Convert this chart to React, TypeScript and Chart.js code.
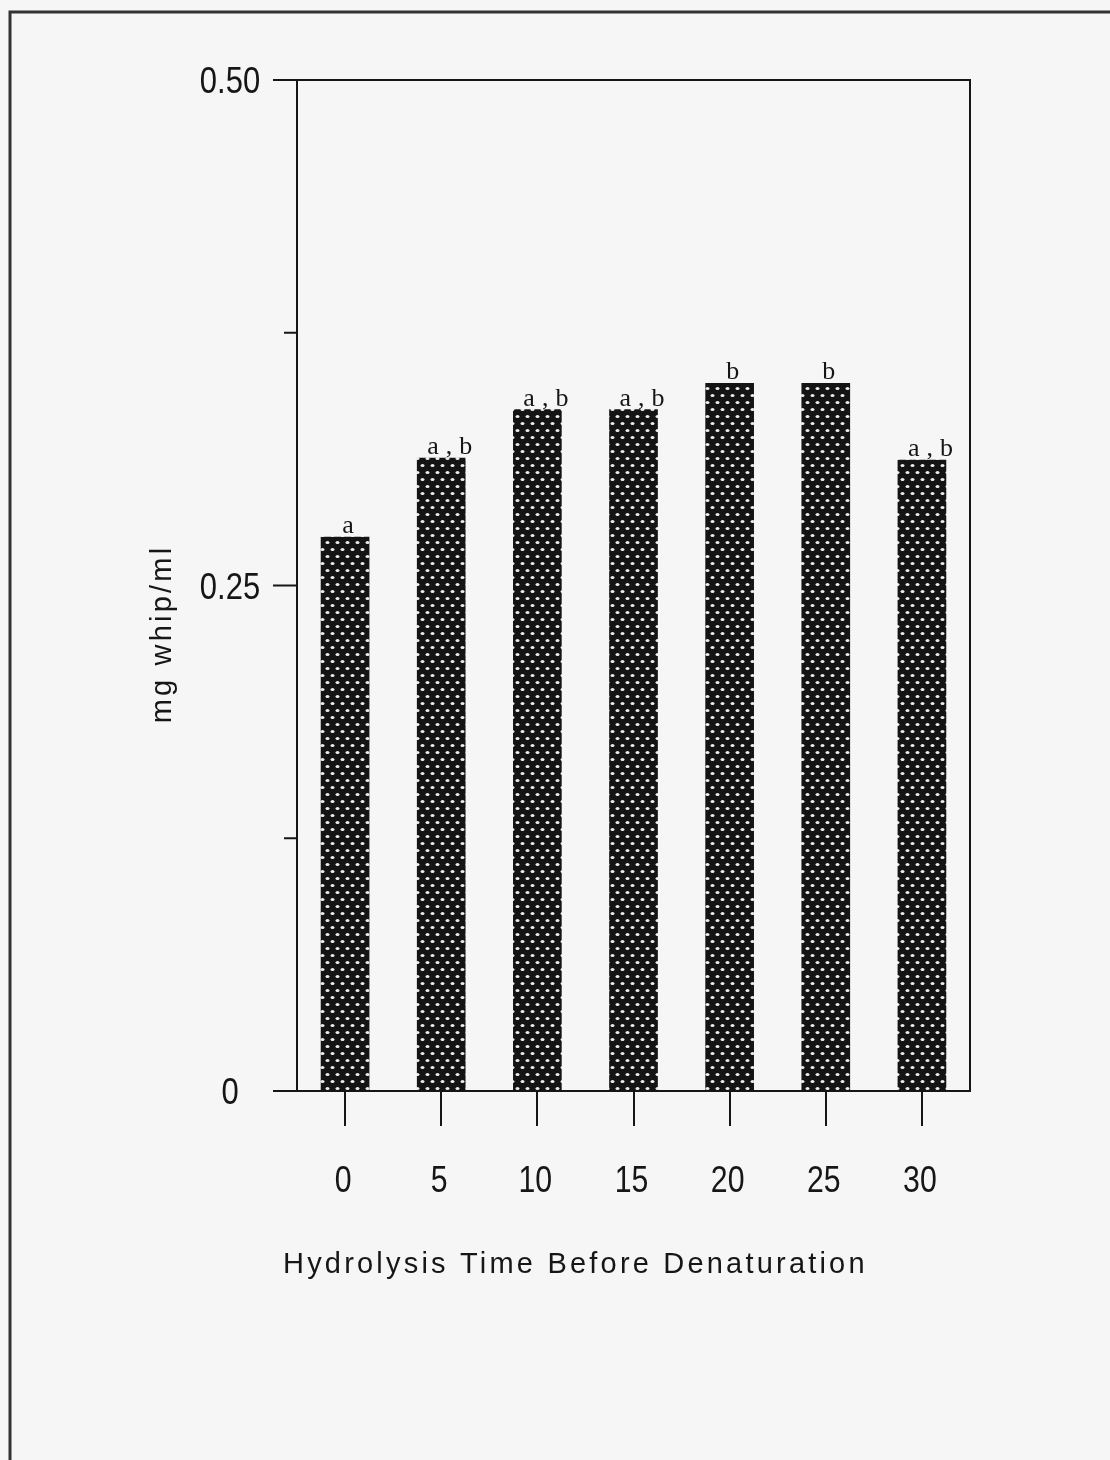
import React, { useEffect, useRef } from "react";
import { Chart, registerables } from "chart.js";

Chart.register(...registerables);

const categories = [0, 5, 10, 15, 20, 25, 30];
const xTickLabels = ["0", "5", "10", "15", "20", "25", "30"];
const values = [0.274, 0.313, 0.337, 0.337, 0.35, 0.35, 0.312];
const sigLabels = ["a", "a,b", "a,b", "a,b", "b", "b", "a,b"];
const yTickValues = [0, 0.125, 0.25, 0.375, 0.5];
const yTickLabels = ["0", "", "0.25", "", "0.50"];
const xTitle = "Hydrolysis Time Before Denaturation";
const yTitle = "mg whip/ml";

const INK = "#161616";
const BG = "#f6f6f6";
const SANS = '"Liberation Sans", Arial, sans-serif';

function makePattern(): CanvasPattern | string {
  const c = document.createElement("canvas");
  c.width = 10;
  c.height = 14;
  const g = c.getContext("2d");
  if (!g) return INK;
  g.fillStyle = "#141414";
  g.fillRect(0, 0, 10, 14);
  g.fillStyle = "#ececec";
  g.beginPath();
  g.ellipse(2.5, 3.5, 2.0, 1.5, 0, 0, Math.PI * 2);
  g.fill();
  g.beginPath();
  g.ellipse(7.5, 10.5, 2.0, 1.5, 0, 0, Math.PI * 2);
  g.fill();
  const ctx = document.createElement("canvas").getContext("2d");
  return (ctx && ctx.createPattern(c, "repeat")) || INK;
}

function condensedText(
  ctx: CanvasRenderingContext2D,
  txt: string,
  cx: number,
  baseline: number,
  sx: number
) {
  ctx.save();
  ctx.translate(cx, baseline);
  ctx.scale(sx, 1);
  ctx.textAlign = "center";
  ctx.textBaseline = "alphabetic";
  ctx.fillText(txt, 0, 0);
  ctx.restore();
}

const decorPlugin = {
  id: "decor",
  beforeDraw(chart: any) {
    const ctx = chart.ctx;
    ctx.save();
    ctx.fillStyle = BG;
    ctx.fillRect(0, 0, chart.width, chart.height);
    ctx.restore();
  },
  afterDraw(chart: any) {
    const ctx = chart.ctx as CanvasRenderingContext2D;
    const { left, right, top, bottom } = chart.chartArea;
    const y = chart.scales.y;
    const x = chart.scales.x;
    ctx.save();
    ctx.strokeStyle = INK;
    ctx.lineWidth = 2;
    // frame top & right
    ctx.beginPath();
    ctx.moveTo(left, top);
    ctx.lineTo(right, top);
    ctx.lineTo(right, bottom);
    ctx.stroke();
    // y ticks + labels
    ctx.fillStyle = INK;
    ctx.font = "36px " + SANS;
    yTickValues.forEach((v, i) => {
      const py = y.getPixelForValue(v);
      const len = yTickLabels[i] ? 24 : 13;
      ctx.beginPath();
      ctx.moveTo(left - len, py);
      ctx.lineTo(left, py);
      ctx.stroke();
      if (yTickLabels[i]) condensedText(ctx, yTickLabels[i], left - 67, py + 13, 0.86);
    });
    // x tick labels
    categories.forEach((v, i) => {
      const px = x.getPixelForValue(v);
      condensedText(ctx, xTickLabels[i], px - 2, bottom + 101, 0.84);
    });
    // bar labels
    const meta = chart.getDatasetMeta(0);
    ctx.font = '26px "Liberation Serif", "DejaVu Serif", serif';
    ctx.textBaseline = "alphabetic";
    meta.data.forEach((el: any, i: number) => {
      const txt = sigLabels[i];
      if (txt.length > 1) {
        (ctx as any).letterSpacing = "7px";
        ctx.textAlign = "left";
        ctx.fillText(txt, el.x - 14, el.y - 4);
      } else {
        (ctx as any).letterSpacing = "0px";
        ctx.textAlign = "center";
        ctx.fillText(txt, el.x + 3, el.y - 4);
      }
    });
    // titles
    (ctx as any).letterSpacing = "3.2px";
    ctx.font = "29px " + SANS;
    ctx.textAlign = "left";
    ctx.textBaseline = "middle";
    ctx.fillText(xTitle, 283, 1265);
    ctx.save();
    ctx.translate(163, 634);
    ctx.rotate(-Math.PI / 2);
    ctx.textAlign = "center";
    ctx.fillText(yTitle, 0, 0);
    ctx.restore();
    (ctx as any).letterSpacing = "0px";
    // outer page border (left & top)
    ctx.strokeStyle = "#333";
    ctx.lineWidth = 3;
    ctx.beginPath();
    ctx.moveTo(10, chart.height);
    ctx.lineTo(10, 12);
    ctx.lineTo(chart.width, 12);
    ctx.stroke();
    ctx.restore();
  },
};

export default function App() {
  const ref = useRef<HTMLCanvasElement | null>(null);
  useEffect(() => {
    document.body.style.margin = "0";
    document.body.style.background = BG;
    const canvas = ref.current;
    if (!canvas) return;
    const chart = new Chart(canvas, {
      type: "bar",
      data: {
        datasets: [
          {
            data: categories.map((c, i) => ({ x: c, y: values[i] })),
            backgroundColor: makePattern() as any,
            borderWidth: 0,
            barThickness: 48,
          },
        ],
      },
      options: {
        responsive: false,
        animation: false,
        devicePixelRatio: 1,
        layout: { padding: { top: 80, right: 140, left: 0, bottom: 0 } },
        plugins: { legend: { display: false }, tooltip: { enabled: false } },
        scales: {
          x: {
            type: "linear",
            min: -2.5,
            max: 32.5,
            offset: false,
            afterBuildTicks: (s: any) => {
              s.ticks = categories.map((v) => ({ value: v }));
            },
            afterFit: (s: any) => {
              s.height = 369;
            },
            grid: {
              offset: false,
              drawOnChartArea: false,
              drawTicks: true,
              tickLength: 35,
              color: INK,
              lineWidth: 2,
            },
            border: { display: true, color: INK, width: 2 },
            ticks: { display: false, autoSkip: false, maxRotation: 0 },
          },
          y: {
            min: 0,
            max: 0.5,
            afterBuildTicks: (s: any) => {
              s.ticks = yTickValues.map((v) => ({ value: v }));
            },
            afterFit: (s: any) => {
              s.width = 297;
            },
            grid: { drawOnChartArea: false, drawTicks: false, color: INK },
            border: { display: true, color: INK, width: 2 },
            ticks: { display: false },
          },
        },
      },
      plugins: [decorPlugin],
    });
    return () => chart.destroy();
  }, []);
  return (
    <canvas
      ref={ref}
      width={1110}
      height={1460}
      style={{ display: "block", width: 1110, height: 1460 }}
    />
  );
}
